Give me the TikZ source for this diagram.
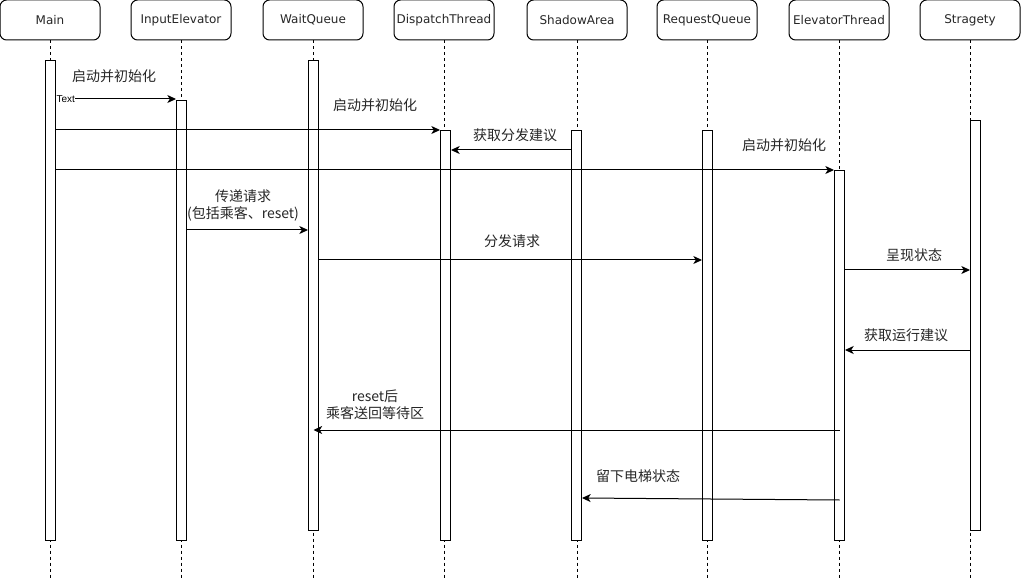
\documentclass[tikz,border=0pt]{standalone}
\usepackage{fontspec}
\setmainfont{DejaVu Sans}
\newfontfamily\cjk{Noto Sans CJK SC}
\newfontfamily\smallfont{Liberation Sans}
\usetikzlibrary{arrows.meta}
\begin{document}
\begin{tikzpicture}[x=0.75pt,y=-0.75pt,
  head/.style={draw, rounded corners=5pt, minimum width=75pt, minimum height=30pt, inner sep=0pt, font=\fontsize{9}{11}\selectfont, line width=0.75pt, text=black!85},
  bar/.style={draw, fill=white, minimum width=7.5pt, inner sep=0pt, anchor=north west, line width=0.75pt},
  life/.style={dash pattern=on 2.25pt off 2.25pt, line width=0.75pt},
  msg/.style={-{Stealth[length=6.5pt,width=6pt,inset=1.8pt]}, line width=0.75pt},
  lbl/.style={font=\cjk\fontsize{10.5}{12.75}\selectfont, align=center, inner sep=0pt, text=black!85}
]
\useasboundingbox (0,0) rectangle (1022,581);

% header boxes
\node[head] (hMain) at (50,20) {Main};
\node[head] (hIE) at (181,20) {InputElevator};
\node[head] (hWQ) at (313,20) {WaitQueue};
\node[head] (hDT) at (444,20) {DispatchThread};
\node[head] (hSA) at (577,20) {ShadowArea};
\node[head] (hRQ) at (707,20) {RequestQueue};
\node[head] (hET) at (839,20) {ElevatorThread};
\node[head] (hST) at (970,20) {Stragety};

% lifelines
\foreach \h in {hMain,hIE,hWQ,hDT,hSA,hRQ,hET,hST}{
  \draw[life] (\h.south) -- ++(0,538);
}

% activation bars
\node[bar, minimum height=360pt] (bMain) at (45,60) {};
\node[bar, minimum height=330pt] (bIE) at (176,100) {};
\node[bar, minimum height=352.5pt] (bWQ) at (308,60) {};
\node[bar, minimum height=307.5pt] (bDT) at (440,130) {};
\node[bar, minimum height=307.5pt] (bSA) at (571,130) {};
\node[bar, minimum height=307.5pt] (bRQ) at (702,130) {};
\node[bar, minimum height=277.5pt] (bET) at (834,170) {};
\node[bar, minimum height=307.5pt] (bST) at (970,120) {};

% messages
\draw[msg] (bMain.east |- 0,99) -- (bIE.west |- 0,99);
\node[fill=white, inner sep=0.3pt, anchor=west, font=\smallfont\fontsize{7.5}{8}\selectfont] (t1) at (bMain.east |- 0,99) {Text};
\node[lbl] (l1) at (114,76) {启动并初始化};

\draw[msg] (bMain.east |- 0,130) -- (bDT.west |- 0,130);
\node[lbl] (l2) at (375,105) {启动并初始化};

\draw[msg] (bSA.west |- 0,150) -- (bDT.east |- 0,150);
\node[lbl] (l3) at (515,135) {获取分发建议};

\draw[msg] (bMain.east |- 0,170) -- (bET.west |- 0,170);
\node[lbl] (l4) at (784,145) {启动并初始化};

\draw[msg] (bIE.east |- 0,230) -- (bWQ.west |- 0,230);
\node[lbl] (l5) at (243,205) {传递请求\\(包括乘客、reset)};

\draw[msg] (bWQ.east |- 0,260) -- (bRQ.west |- 0,260);
\node[lbl] (l6) at (512,241) {分发请求};

\draw[msg] (bET.east |- 0,270) -- (bST.west |- 0,270);
\node[lbl] (l7) at (914,255) {呈现状态};

\draw[msg] (bST.west |- 0,350) -- (bET.east |- 0,350);
\node[lbl] (l8) at (906,335) {获取运行建议};

\draw[msg] (bET.center |- 0,430) -- (bWQ.center |- 0,430);
\node[lbl] (l9) at (375,405) {reset后\\乘客送回等待区};

\draw[msg] (bET.center |- 0,500) -- (bSA.east |- 0,498);
\node[lbl] (l10) at (638,476) {留下电梯状态};
\end{tikzpicture}
\end{document}
